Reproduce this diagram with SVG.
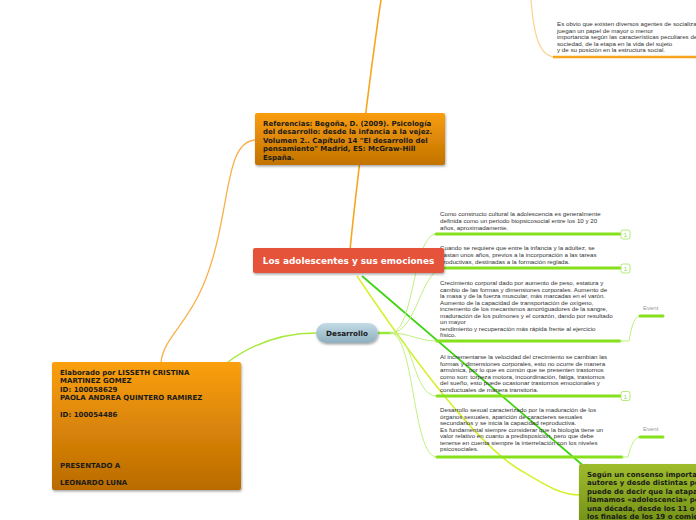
<svg xmlns="http://www.w3.org/2000/svg" width="696" height="520" viewBox="0 0 696 520">
<defs>
<linearGradient id="gOrange" x1="0" y1="0" x2="0" y2="1"><stop offset="0" stop-color="#fb9f0e"/><stop offset="1" stop-color="#b96b02"/></linearGradient>
<linearGradient id="gRef" x1="0" y1="0" x2="0" y2="1"><stop offset="0" stop-color="#f99d0d"/><stop offset="1" stop-color="#c27302"/></linearGradient>
<linearGradient id="gOlive" x1="0" y1="0" x2="0" y2="1"><stop offset="0" stop-color="#9ebc2c"/><stop offset="1" stop-color="#6c8a12"/></linearGradient>
<linearGradient id="gBlue" x1="0" y1="0" x2="0" y2="1"><stop offset="0" stop-color="#c3dbe6"/><stop offset="1" stop-color="#8eafbf"/></linearGradient>
<filter id="sh" x="-10%" y="-10%" width="120%" height="130%"><feDropShadow dx="0.8" dy="1.5" stdDeviation="1.2" flood-color="#000" flood-opacity="0.35"/></filter>
</defs>
<style>
.t{font-family:"Liberation Sans",Arial,sans-serif;font-size:6.2px;fill:#333}
.b{font-family:"DejaVu Sans",Verdana,sans-serif;font-weight:bold;font-size:7px;fill:#1a1a1a}
.ev{font-family:"Liberation Sans",Arial,sans-serif;font-size:6px;fill:#9a9a9a}
.thick{stroke:#86e01c;stroke-width:3;fill:none;stroke-linecap:round}
.thin{stroke:#bff27e;stroke-width:1;fill:none}
.icon{fill:#fff;stroke:#a9ea6a;stroke-width:0.9}
.it{font-family:"Liberation Sans",Arial,sans-serif;font-size:6px;fill:#8cd94a;text-anchor:middle}
</style>
<g id="connectors">
<path d="M531,0 C534,38 540,57 556,57" stroke="#fcd08e" stroke-width="1.2" fill="none"/>
<path d="M553,57 L696,57" stroke="#f7a51c" stroke-width="2.5" fill="none"/>
<path d="M350,250 C357,180 372,60 381,0" stroke="#f7a51c" stroke-width="1.6" fill="none"/>
<path d="M255,140 C222,142 232,220 202,288 C186,325 164,338 161,362" stroke="#f8b04a" stroke-width="1.3" fill="none"/>
<path d="M228,362 C258,340 290,333 316,333" stroke="#a6ea3c" stroke-width="1.4" fill="none"/>
<path d="M357,276 C400,340 470,440 520,470 C545,485 560,495 580,495" stroke="#d6f02c" stroke-width="1.5" fill="none"/>
<path d="M362,276 L586,468" stroke="#3fd410" stroke-width="1.8" fill="none"/>
<path d="M378,333 L392,333" stroke="#9be83a" stroke-width="2.5" fill="none"/>
<path d="M390,333 C415,333 412,234 437,234" class="thin"/>
<path d="M390,333 C418,333 420,268 445,268" class="thin"/>
<path d="M390,333 C410,333 418,341 437,341" class="thin"/>
<path d="M390,333 C415,333 412,396 437,396" class="thin"/>
<path d="M390,333 C415,333 412,457 437,457" class="thin"/>
<path d="M436,234 L620,234" class="thick"/>
<path d="M445,268 L620,268" class="thick"/>
<path d="M437,341 L620,341" class="thick"/>
<path d="M437,396 L620,396" class="thick"/>
<path d="M437,457 L622,457" class="thick"/>
<path d="M620,341 L629,341 C632,325 634,316 641,316" class="thin"/>
<path d="M622,457 L628,457 C631,445 634,437 641,437" class="thin"/>
<path d="M640,316 L663,316" class="thick"/>
<path d="M640,437 L663,437" class="thick"/>
</g>
<g id="topnote">
<text class="t" x="557" y="26">Es obvio que existen diversos agentes de socialización que</text>
<text class="t" x="557" y="32.5">juegan un papel de mayor o menor</text>
<text class="t" x="557" y="39">importancia según las características peculiares de la</text>
<text class="t" x="557" y="45.5">sociedad, de la etapa en la vida del sujeto</text>
<text class="t" x="557" y="52">y de su posición en la estructura social.</text>
</g>
<g id="referencias">
<rect x="255" y="113" width="190" height="52" rx="2" fill="url(#gRef)" filter="url(#sh)"/>
<text class="b" x="263" y="125.5">Referencias: Begoña, D. (2009). Psicología</text>
<text class="b" x="263" y="134">del desarrollo: desde la infancia a la vejez.</text>
<text class="b" x="263" y="142.5">Volumen 2.. Capítulo 14 "El desarrollo del</text>
<text class="b" x="263" y="151">pensamiento" Madrid, ES: McGraw-Hill</text>
<text class="b" x="263" y="159.5">España.</text>
</g>
<g id="text1">
<text class="t" x="440" y="216">Como constructo cultural la adolescencia es generalmente</text>
<text class="t" x="440" y="223">definida como un periodo biopsicosocial entre los 10 y 20</text>
<text class="t" x="440" y="230">años, aproximadamente.</text>
<rect class="icon" x="621" y="230" width="9" height="9" rx="2"/>
<text class="it" x="625.5" y="237">1</text>
</g>
<g id="text2">
<text class="t" x="440" y="250">Cuando se requiere que entre la infancia y la adultez, se</text>
<text class="t" x="440" y="257">gastan unos años, previos a la incorporación a las tareas</text>
<text class="t" x="440" y="264">productivas, destinadas a la formación reglada.</text>
<rect class="icon" x="621" y="264" width="9" height="9" rx="2"/>
<text class="it" x="625.5" y="271">1</text>
</g>
<g id="central">
<rect x="253" y="248" width="191" height="25" rx="2" fill="#e5533b" filter="url(#sh)"/>
<text x="348.5" y="264" text-anchor="middle" font-family="DejaVu Sans,Verdana,sans-serif" font-weight="bold" font-size="8.9" fill="#fff">Los adolescentes y sus emociones</text>
</g>
<g id="text3">
<text class="t" x="440" y="285">Crecimiento corporal dado por aumento de peso, estatura y</text>
<text class="t" x="440" y="291.5">cambio de las formas y dimensiones corporales. Aumento de</text>
<text class="t" x="440" y="298">la masa y de la fuerza muscular, más marcadas en el varón.</text>
<text class="t" x="440" y="304.5">Aumento de la capacidad de transportación de oxígeno,</text>
<text class="t" x="440" y="311">incremento de los mecanismos amortiguadores de la sangre,</text>
<text class="t" x="440" y="317.5">maduración de los pulmones y el corazón, dando por resultado</text>
<text class="t" x="440" y="324">un mayor</text>
<text class="t" x="440" y="330.5">rendimiento y recuperación más rápida frente al ejercicio</text>
<text class="t" x="440" y="337">físico.</text>
<text class="ev" x="643" y="310">Event</text>
</g>
<g id="text4">
<text class="t" x="440" y="359">Al incrementarse la velocidad del crecimiento se cambian las</text>
<text class="t" x="440" y="365.5">formas y dimensiones corporales, esto no ocurre de manera</text>
<text class="t" x="440" y="372">armónica, por lo que es común que se presenten trastornos</text>
<text class="t" x="440" y="378.5">como son: torpeza motora, incoordinación, fatiga, trastornos</text>
<text class="t" x="440" y="385">del sueño, esto puede ocasionar trastornos emocionales y</text>
<text class="t" x="440" y="391.5">conductuales de manera transitoria.</text>
<rect class="icon" x="621" y="391.5" width="9" height="9" rx="2"/>
<text class="it" x="625.5" y="398.5">1</text>
</g>
<g id="text5">
<text class="t" x="440" y="412">Desarrollo sexual caracterizado por la maduración de los</text>
<text class="t" x="440" y="418.5">órganos sexuales, aparición de caracteres sexuales</text>
<text class="t" x="440" y="425">secundarios y se inicia la capacidad reproductiva.</text>
<text class="t" x="440" y="431.5">Es fundamental siempre considerar que la biología tiene un</text>
<text class="t" x="440" y="438">valor relativo en cuanto a predisposición, pero que debe</text>
<text class="t" x="440" y="444.5">tenerse en cuenta siempre la interrelación con los niveles</text>
<text class="t" x="440" y="451">psicosociales.</text>
<text class="ev" x="643" y="431">Event</text>
</g>
<g id="desarrollo">
<rect x="316" y="323" width="62" height="20" rx="10" fill="url(#gBlue)" filter="url(#sh)"/>
<text x="347" y="336" text-anchor="middle" font-family="DejaVu Sans,Verdana,sans-serif" font-weight="bold" font-size="7.2" fill="#1a1a1a">Desarrollo</text>
</g>
<g id="autores">
<rect x="52" y="362" width="189" height="128" rx="2" fill="url(#gOrange)" filter="url(#sh)"/>
<text class="b" x="60" y="374.5">Elaborado por LISSETH CRISTINA</text>
<text class="b" x="60" y="383">MARTINEZ GOMEZ</text>
<text class="b" x="60" y="391.5">ID: 100058629</text>
<text class="b" x="60" y="400">PAOLA ANDREA QUINTERO RAMIREZ</text>
<text class="b" x="60" y="417">ID: 100054486</text>
<text class="b" x="60" y="467.5">PRESENTADO A</text>
<text class="b" x="60" y="484.5">LEONARDO LUNA</text>
</g>
<g id="consenso">
<rect x="579" y="464" width="130" height="70" rx="2" fill="url(#gOlive)" filter="url(#sh)"/>
<text class="b" x="587" y="476.5">Según un consenso importante</text>
<text class="b" x="587" y="485">autores y desde distintas perspectivas</text>
<text class="b" x="587" y="493.5">puede de decir que la etapa que</text>
<text class="b" x="587" y="502">llamamos «adolescencia» persiste</text>
<text class="b" x="587" y="510.5">una década, desde los 11 o 12</text>
<text class="b" x="587" y="519">los finales de los 19 o comienzos</text>
</g>
</svg>
